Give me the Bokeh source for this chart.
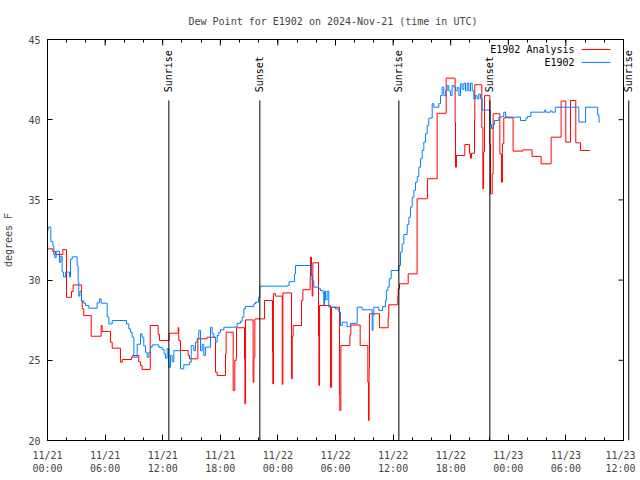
import math
from bokeh.plotting import figure
from bokeh.models import Range1d, FixedTicker, LinearAxis, Label, Arrow, Span
from bokeh.embed import file_html
from bokeh.resources import INLINE

# ---------------- data (hours since 2024-11-21 00:00 UTC, degrees F) ----------------
obs_hours = [0.0, 0.07, 0.35, 0.56, 0.66, 0.76, 0.9, 1.25, 1.39, 1.53, 1.67, 1.88, 2.29, 2.4, 2.57,
             3.09, 3.19, 3.26, 3.37, 3.54, 3.78, 3.96, 4.31, 5.17, 5.42, 5.59, 6.22, 6.39, 6.74,
             8.23, 8.47, 8.65, 8.82, 9.0, 9.34, 9.69, 9.86, 10.03, 10.21, 10.38, 10.56, 10.73, 10.9,
             11.6, 11.94, 12.15, 12.29, 12.46, 12.64, 12.81, 12.99, 13.16, 13.85, 14.2, 14.79, 14.97,
             15.24, 15.42, 15.59, 15.76, 15.94, 16.11, 16.28, 16.45, 16.98, 17.15, 17.33, 17.5, 17.67,
             17.85, 18.02, 18.37, 19.58, 19.76, 20.1, 20.28, 20.45, 20.62, 21.49, 21.67, 21.98, 22.12,
             22.22, 25.0, 25.17, 25.74, 25.83, 27.5, 27.57, 27.74, 28.26, 28.44, 28.7, 28.78, 28.85,
             28.96, 29.13, 29.3, 30.0, 30.35, 30.52, 30.7, 31.2, 31.56, 32.26, 32.78, 33.82, 33.9,
             33.99, 34.51, 34.9, 35.2, 35.3, 35.45, 35.6, 35.8, 36.6, 36.77, 36.94, 37.12, 37.47,
             37.64, 37.81, 37.99, 38.16, 38.33, 38.51, 38.68, 38.85, 39.03, 39.2, 39.38, 39.55, 39.72,
             40.07, 40.24, 40.76, 40.94, 41.11, 41.28, 41.46, 41.63, 41.8, 41.98, 42.15, 42.33, 42.5,
             42.67, 42.85, 43.02, 43.19, 43.37, 43.54, 43.72, 43.89, 44.06, 44.24, 44.41, 44.58,
             44.76, 44.93, 45.1, 45.28, 46.14, 46.25, 46.42, 46.56, 47.01, 47.36, 47.53, 47.71, 47.88,
             49.27, 49.84, 50.0, 50.35, 51.8, 51.9, 52.4, 52.57, 52.9, 55.35, 56.05, 57.3, 57.45, 57.55]
obs_values = [33.1, 33.3, 32.4, 32.1, 31.6, 31.4, 31.8, 31.1, 31.5, 30.5, 30.2, 30.5, 30.2, 31.3, 31.45,
              30.9, 29.9, 29.0, 29.3, 28.7, 28.56, 28.42, 28.25, 28.58, 28.83, 28.56, 27.7, 27.27, 27.48,
              27.27, 26.96, 26.75, 26.44, 25.19, 26.0, 26.65, 26.44, 25.9, 25.5, 25.19, 25.5, 25.82, 25.96,
              25.8, 25.67, 25.4, 25.13, 25.72, 24.57, 25.3, 24.9, 25.6, 24.47, 24.72, 24.88, 25.92,
              25.6, 26.13, 26.38, 26.86, 25.6, 26.0, 25.3, 25.82, 27.06, 26.65, 26.44, 26.13, 26.55,
              26.75, 26.9, 27.06, 27.1, 27.31, 27.44, 27.69, 28.21, 28.35, 28.52, 28.62, 28.93, 29.56,
              29.62, 29.66, 29.9, 30.39, 30.91, 30.29, 29.98, 29.56, 29.46, 29.35, 29.2, 28.42, 29.31,
              28.77, 29.31, 28.31, 28.2, 28.0, 27.17, 27.38, 27.1, 27.3, 28.31, 28.15, 26.86, 27.8,
              28.31, 28.1, 28.35, 28.73, 29.35, 29.56, 30.08, 30.6, 30.91, 31.74, 32.26, 32.84, 33.47,
              33.92, 34.55, 35.17, 35.59, 36.1, 36.46, 37.04, 37.56, 38.08, 38.6, 39.12, 39.64, 40.1,
              41.0, 40.78, 41.0, 41.51, 42.03, 41.5, 41.8, 42.13, 41.8, 41.5, 42.13, 42.03, 41.8,
              42.0, 41.5, 42.24, 41.9, 42.28, 41.8, 42.28, 41.8, 42.28, 41.8, 41.3, 41.5,
              41.3, 41.6, 41.3, 40.6, 39.7, 39.45, 39.7, 39.95, 40.16, 40.2, 40.47, 40.2, 40.16,
              39.95, 40.1, 40.2, 40.47, 40.6, 40.47, 40.55, 40.47, 40.78, 39.85, 40.78, 40.3, 39.85, 39.85]

ana_hours = [0.0, 0.56, 0.83, 1.6, 1.98, 2.5, 2.67, 3.54, 3.61, 3.78, 4.55, 5.59, 5.69, 6.56, 6.74,
             7.6, 7.78, 8.75, 8.89, 9.51, 9.69, 9.86, 10.7, 11.53, 11.67, 12.67, 13.61, 13.68, 13.85,
             14.65, 14.79, 15.66, 16.63, 17.5, 17.67, 18.54, 18.61, 19.34, 19.51, 19.65, 19.69, 20.52,
             20.56, 20.63, 21.42, 21.5, 21.6, 22.6, 23.44, 23.47, 23.54, 23.75, 24.45, 24.52, 25.42,
             25.49, 25.59, 26.46, 26.6, 27.36, 27.4, 27.5, 27.57, 27.64, 28.23, 28.27, 28.34, 29.48,
             29.59, 30.42, 30.45, 30.56, 31.5, 31.6, 32.57, 33.37, 33.44, 33.5, 33.54, 34.58, 35.48,
             35.55, 36.49, 36.53, 36.67, 37.57, 38.5, 39.58, 40.59, 41.53, 42.46, 42.5, 42.6, 43.47,
             43.96, 44.06, 44.17, 44.48, 44.51, 45.24, 45.35, 45.42, 45.52, 46.08, 46.15, 46.32, 46.42,
             47.12, 47.29, 47.39, 47.53, 48.5, 49.51, 50.48, 51.42, 52.46, 53.5, 53.99, 54.48, 55.03,
             55.52, 56.49]
ana_values = [31.95, 31.78, 31.6, 31.9, 28.93, 29.29, 29.7, 28.73, 28.21, 27.79, 26.5, 27.17, 26.8, 26.13, 25.76,
              24.88, 25.05, 25.19, 25.3, 24.9, 24.68, 24.43, 27.17, 26.6, 26.23, 26.69, 27.04, 26.23, 25.61,
              25.3, 25.09, 26.34, 26.44, 24.26, 24.05, 25.4, 26.75, 23.12, 24.99, 25.2, 27.03, 25.1,
              22.29, 27.52, 23.63, 25.2, 27.58, 28.73, 25.5, 23.53, 29.15, 29.0, 23.5, 29.2, 23.85,
              26.5, 27.17, 28.73, 29.4, 30.2, 31.43, 30.3, 29.0, 31.08, 26.5, 23.43, 28.42, 23.32,
              28.31, 22.9, 21.87, 25.92, 26.6, 27.2, 25.92, 23.63, 21.25, 24.5, 27.9, 27.03, 27.69,
              28.46, 29.0, 29.46, 29.77, 30.39, 35.07, 36.32, 40.4, 42.59, 39.85, 37.04, 37.77, 38.45,
              37.9, 37.6, 37.91, 40.0, 42.18, 39.5, 35.69, 38.0, 41.5, 38.5, 35.38, 36.63, 40.37,
              37.87, 36.1, 38.5, 40.12, 38.04, 38.12, 37.71, 37.25, 38.91, 41.16, 38.6, 41.2, 38.56,
              38.08, 38.08]

sun_hours = [12.64, 22.12, 36.6, 46.08, 60.55]
sun_labels = ["Sunrise", "Sunset", "Sunrise", "Sunset", "Sunrise"]

x_tick_hours = [0, 6, 12, 18, 24, 30, 36, 42, 48, 54, 60]
x_tick_labels = ["11/21\n00:00", "11/21\n06:00", "11/21\n12:00", "11/21\n18:00",
                 "11/22\n00:00", "11/22\n06:00", "11/22\n12:00", "11/22\n18:00",
                 "11/23\n00:00", "11/23\n06:00", "11/23\n12:00"]
x_minor_hours = list(range(0, 61, 2))
y_ticks = [20, 25, 30, 35, 40, 45]

series_names = ["E1902 Analysis", "E1902"]

# ---------------- styling ----------------
FONT = "DejaVu Sans Mono"
FS = "10px"
RED = "#ff0000"
BLUE = "#0080ff"

PX_PER_H = 9.6            # 576 px for the 60 h axis
PX_PER_DEG = 16.04        # 401 px for 25 degrees
X0, X1 = x_tick_hours[0], x_tick_hours[-1]
Y0, Y1 = y_ticks[0], y_ticks[-1]
FRAME_W = 588             # a little wider than the 60 h axis so the last marker shows
X_END = X0 + FRAME_W / PX_PER_H

p = figure(frame_width=FRAME_W, frame_height=401, output_backend="svg", toolbar_location=None,
           x_range=Range1d(X0, X_END), y_range=Range1d(Y0, Y1),
           min_border_left=0, min_border_right=0, min_border_top=39, min_border_bottom=0,
           title="Dew Point for E1902 on 2024-Nov-21 (time in UTC)")
p.background_fill_color = "white"
p.border_fill_color = "white"
p.grid.visible = False
p.outline_line_color = None

p.title.text_font = FONT
p.title.text_font_size = FS
p.title.text_font_style = "normal"
p.title.align = "left"
p.title.vertical_align = "middle"
p.title.standoff = 24
p.title.offset = 141

xa = p.xaxis[0]
xa.bounds = (X0, X1)
xa.ticker = FixedTicker(ticks=x_tick_hours, minor_ticks=x_minor_hours)
xa.major_label_overrides = {h: lab for h, lab in zip(x_tick_hours, x_tick_labels)}
xa.major_tick_in = 6
xa.major_tick_out = 0
xa.minor_tick_in = 3
xa.minor_tick_out = 0
xa.major_label_standoff = 9
xa.axis_label_standoff = 0
xa.major_label_text_font = FONT
xa.major_label_text_font_size = FS
xa.major_label_text_line_height = 1.22
xa.axis_line_color = "black"

ya = p.yaxis[0]
ya.ticker = FixedTicker(ticks=y_ticks)
ya.major_tick_in = 5
ya.major_tick_out = 0
ya.minor_tick_line_color = None
ya.major_label_standoff = 7
ya.major_label_text_font = FONT
ya.major_label_text_font_size = FS
ya.axis_label = "degrees F"
ya.axis_label_text_font = FONT
ya.axis_label_text_font_size = FS
ya.axis_label_text_font_style = "normal"
ya.axis_label_standoff = 11

# top border with mirror ticks (no labels)
top = LinearAxis(ticker=FixedTicker(ticks=[], minor_ticks=x_minor_hours), bounds=(X0, X1),
                 minor_tick_in=3, minor_tick_out=0, major_tick_out=0, major_label_standoff=0)
p.add_layout(top, "above")
# right border of the frame at the end of the time axis
p.add_layout(Span(location=X1, dimension="height", line_color="black", line_width=1))
# longer mirror ticks on top (major) and on the right
p.segment(x0=x_tick_hours, y0=[Y1] * len(x_tick_hours),
          x1=x_tick_hours, y1=[Y1 - 6 / PX_PER_DEG] * len(x_tick_hours),
          line_color="black", line_width=1)
p.segment(x0=[X1] * len(y_ticks), y0=y_ticks, x1=[X1 - 5 / PX_PER_H] * len(y_ticks), y1=y_ticks,
          line_color="black", line_width=1)

# data
p.step(ana_hours, ana_values, mode="after", line_color=RED, line_width=1)
p.step(obs_hours, obs_values, mode="after", line_color=BLUE, line_width=1)

# sunrise / sunset markers
for h, lab in zip(sun_hours, sun_labels):
    p.add_layout(Arrow(end=None, x_start=h, y_start=Y0, x_end=h, y_end=41.2,
                       line_color="black", line_width=1))
    p.add_layout(Label(x=h, y=41.71, text=lab, angle=math.pi / 2,
                       text_align="left", text_baseline="middle",
                       text_font=FONT, text_font_size=FS, text_color="black"))

# legend (gnuplot style: text then sample)
for name, color, ly in zip(series_names, [RED, BLUE], [44.38, 43.57]):
    p.add_layout(Label(x=54.9, y=ly, text=name, text_align="right", text_baseline="middle",
                       text_font=FONT, text_font_size=FS, text_color="black"))
    p.add_layout(Arrow(end=None, x_start=55.63, y_start=ly, x_end=58.65, y_end=ly,
                       line_color=color, line_width=1))

open("out.html", "w").write(file_html(p, INLINE))
